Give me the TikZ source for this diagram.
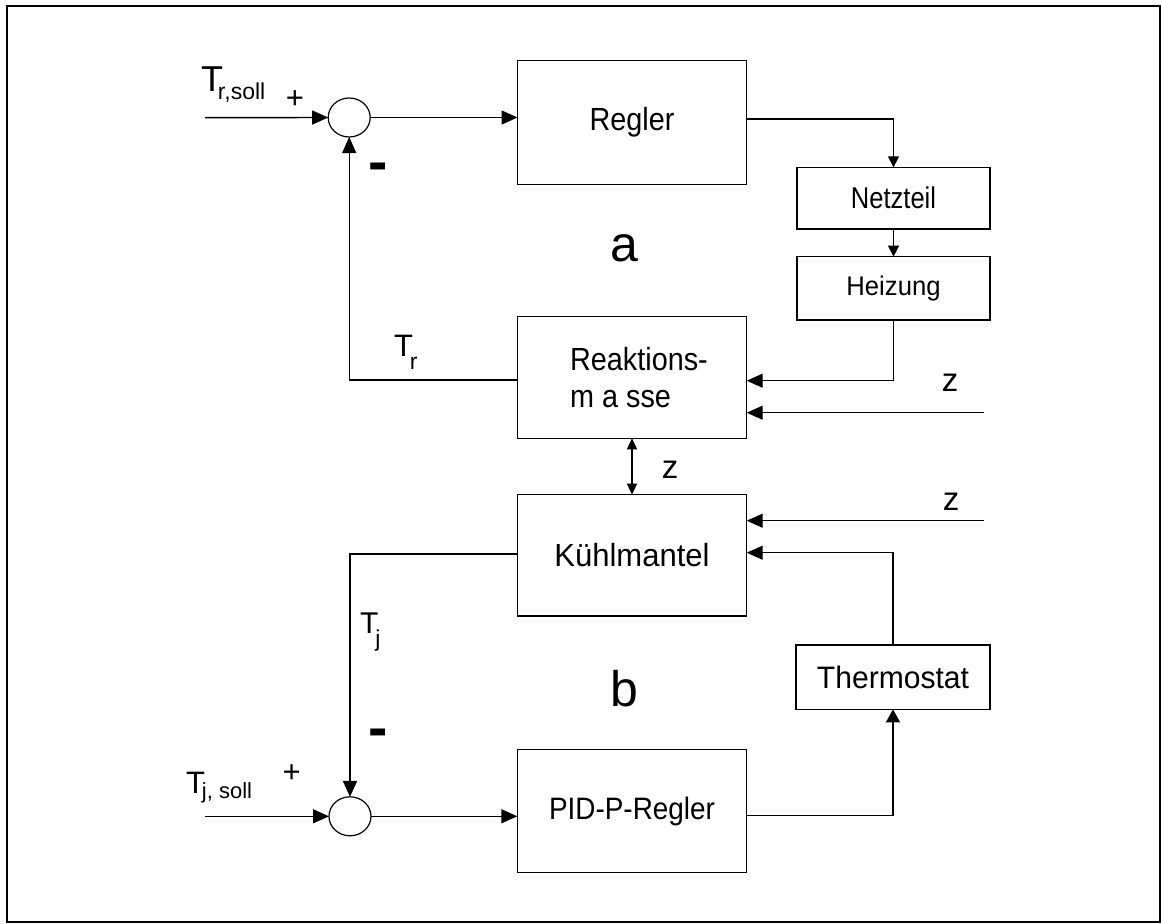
\documentclass[tikz,border=0pt]{standalone}
\usepackage{fontspec}
\setmainfont{Liberation Sans}
\newfontfamily\fA[FakeStretch=0.9]{Liberation Sans}
\newfontfamily\fN[FakeStretch=0.85]{Liberation Sans}
\newfontfamily\fH[FakeStretch=0.95]{Liberation Sans}
\newfontfamily\fB[FakeStretch=0.97]{Liberation Sans}
\usetikzlibrary{arrows.meta,shapes.geometric}
\newcommand\fsz[2]{\fontsize{#1}{#2}\selectfont}
\begin{document}
\begin{tikzpicture}[x=1pt,y=-1pt,
  blk/.style={draw, rectangle, line width=1.3pt, inner sep=0pt, outer sep=0pt, align=center},
  sumpt/.style={draw, ellipse, line width=1.2pt, minimum width=42pt, minimum height=39pt, inner sep=0pt, outer sep=0pt},
  conn/.style={line width=1.4pt},
  bigarr/.style={conn, -{Triangle[length=16pt,width=14pt]}},
  smallarr/.style={conn, -{Triangle[length=11pt,width=11pt]}},
  lbl/.style={inner sep=0pt, outer sep=0pt}]
\useasboundingbox (0,0) rectangle (1161,923);
\draw[line width=2pt] (7,6) rectangle (1159.5,921.5);

% blocks
\node[blk, minimum width=229pt, minimum height=123.6pt, font={\fA\fsz{32}{36}}] (regler) at (632,122.5) {Regler};
\node[blk, minimum width=193pt, minimum height=61.7pt, font={\fN\fsz{30}{34}}] (netz) at (893.5,198.2) {Netzteil};
\node[blk, minimum width=193pt, minimum height=63.3pt, font={\fH\fsz{27}{30}}] (heiz) at (893.5,288.3) {Heizung};
\node[blk, minimum width=229.4pt, minimum height=121.6pt, align=left, font={\fA\fsz{32}{37.6}}] (reak) at (632,377.5) {\hspace*{14pt}Reaktions-\\\hspace*{14pt}m a sse};
\node[blk, minimum width=229.4pt, minimum height=121.3pt, font={\fB\fsz{32}{36}}] (kuehl) at (632,555.3) {Kühlmantel};
\node[blk, minimum width=194pt, minimum height=64.3pt, font={\fB\fsz{31}{35}}] (thermo) at (893,677.2) {Thermostat};
\node[blk, minimum width=229.4pt, minimum height=123.6pt, font={\fA\fsz{31}{35}}] (pid) at (632,811) {PID-P-Regler};

% summation points
\node[sumpt] (c1) at (349.2,117.5) {};
\node[sumpt] (c2) at (350,816.3) {};

% free ends
\coordinate (tr0) at (205,117.7);
\coordinate (tj0) at (205,816.3);
\coordinate (z1) at (984,412.7);
\coordinate (z2) at (984,520.7);

% connectors
\draw[bigarr] (tr0) -- (c1.west);
\draw[bigarr] (c1.east) -- (c1.east -| regler.west);
\draw[smallarr, line width=1.2pt] ([yshift=3.5pt]regler.east) -| (netz.north);
\draw[smallarr] (netz.south) -- (heiz.north);
\draw[bigarr] (heiz.south) |- ([yshift=-3.2pt]reak.east);
\draw[bigarr] (z1) -- (z1 -| reak.east);
\draw[bigarr, line width=1.2pt] ([yshift=-2.5pt]reak.west) -| (c1.south);
\draw[conn, {Triangle[length=11pt,width=10pt]}-{Triangle[length=11pt,width=10pt]}] (reak.south) -- (kuehl.north);
\draw[bigarr] (z2) -- (z2 -| kuehl.east);
\draw[bigarr] (thermo.north) |- ([yshift=2.6pt]kuehl.east);
\draw[bigarr, line width=2.2pt] ([yshift=1.3pt]kuehl.west) -| (c2.north);
\draw[bigarr] (tj0) -- (c2.west);
\draw[bigarr] (c2.east) -- (c2.east -| pid.west);
\draw[conn, -{Triangle[length=13pt,width=14pt]}] ([yshift=-4.7pt]pid.east) -| (thermo.south);

% labels
\node[lbl, anchor=base west] (trsoll) at (201,91.7) {\fsz{36}{36}T\kern-5pt\raisebox{-7.6pt}{\fsz{23}{23}r,soll}};
\node[lbl] (plus1) at (295,100) {\fsz{31}{31}+};
\node[lbl, anchor=base] (minus1) at (378,181) {\bfseries\fsz{58}{58}-};
\node[lbl, anchor=base west] (trl) at (394,356.7) {\fsz{31}{31}T\kern-3pt\raisebox{-13pt}{\fsz{23}{23}r}};
\node[lbl, anchor=base] (la) at (624,261.7) {\fsz{50}{50}a};
\node[lbl, anchor=base] (zl1) at (950,391.7) {\fsz{33}{33}z};
\node[lbl, anchor=base] (zl2) at (670,478.3) {\fsz{33}{33}z};
\node[lbl, anchor=base] (zl3) at (951,510) {\fsz{33}{33}z};
\node[lbl, anchor=base west] (tjl) at (360,633) {\fsz{30}{30}T\kern-3pt\raisebox{-13pt}{\fsz{23}{23}j}};
\node[lbl, anchor=base] (lb) at (624.5,706) {\fsz{50}{50}b};
\node[lbl, anchor=base] (minus2) at (378,747) {\bfseries\fsz{58}{58}-};
\node[lbl] (plus2) at (291.7,774) {\fsz{31}{31}+};
\node[lbl, anchor=base west] (tjsoll) at (186,793) {\fsz{31}{31}T\kern-3pt\raisebox{-5pt}{\fsz{22}{22}j, soll}};
\end{tikzpicture}
\end{document}
